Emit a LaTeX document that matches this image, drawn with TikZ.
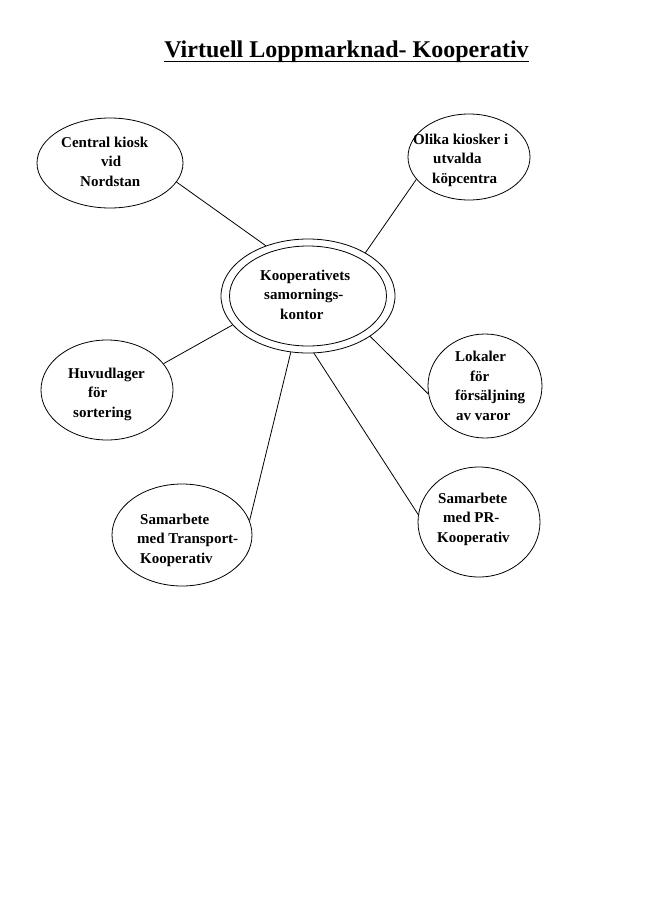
\documentclass[tikz,border=0pt]{standalone}
\usepackage{fontspec}
\setmainfont{Liberation Serif}
\usetikzlibrary{shapes.geometric}
\begin{document}
\begin{tikzpicture}[x=1pt,y=-1pt,
  bub/.style={draw,ellipse,line width=0.8pt,inner sep=0pt},
  lbl/.style={font=\fontsize{15}{19.5}\selectfont\bfseries,align=left,anchor=base west,inner sep=0pt},
  conn/.style={line width=0.8pt}]
\useasboundingbox (0,0) rectangle (661,900);
\fill[white] (0,0) rectangle (661,900);
% title
\node[font=\fontsize{24}{28}\selectfont\bfseries,inner sep=0pt,anchor=base] (title) at (346.5,57) {Virtuell Loppmarknad- Kooperativ};
\draw[line width=1.6pt] ([yshift=-4.5pt]title.base west) -- ([yshift=-4.5pt]title.base east);
% ellipses
\node[bub,minimum width=146pt,minimum height=90pt] (ck) at (110,163) {};
\node[bub,minimum width=122pt,minimum height=86pt] (ok) at (469,157) {};
\node[bub,minimum width=174pt,minimum height=114pt] (co) at (308,296) {};
\node[bub,minimum width=157pt,minimum height=100pt] (ci) at (308,296) {};
\node[bub,minimum width=132pt,minimum height=100pt] (hl) at (107,390) {};
\node[bub,minimum width=114pt,minimum height=104pt] (lk) at (485,386) {};
\node[bub,minimum width=140pt,minimum height=102pt] (st) at (182,535) {};
\node[bub,minimum width=122pt,minimum height=110pt] (pr) at (479,522) {};
% labels (anchor = baseline of last line)
\node[lbl] (tck) at (61,186) {Central kiosk\\\hspace*{40pt}vid\\\hspace*{19pt}Nordstan};
\node[lbl] (tok) at (413,183) {Olika kiosker i\\\hspace*{20pt}utvalda\\\hspace*{19pt}köpcentra};
\node[lbl] (tco) at (260,319) {Kooperativets\\\hspace*{4pt}samornings-\\\hspace*{20pt}kontor};
\node[lbl] (thl) at (68,417) {Huvudlager\\\hspace*{20pt}för\\\hspace*{5pt}sortering};
\node[lbl] (tlk) at (455,420) {Lokaler\\\hspace*{15pt}för\\försäljning\\\hspace*{1pt}av varor};
\node[lbl] (tst) at (137,563) {\hspace*{3pt}Samarbete\\med Transport-\\\hspace*{3pt}Kooperativ};
\node[lbl] (tpr) at (437,542) {\hspace*{1pt}Samarbete\\\hspace*{6pt}med PR-\\Kooperativ};
% connectors
\draw[conn] (ck.-16.9) -- (co.130);
\draw[conn] (ok.203) -- (co.37.5);
\draw[conn] (hl.25.3) -- (co.201.4);
\draw[conn] (lk.188) -- (co.-33.3);
\draw[conn] (st.12.3) -- (co.-107.8);
\draw[conn] (pr.173) -- (co.-84.7);
\end{tikzpicture}
\end{document}
